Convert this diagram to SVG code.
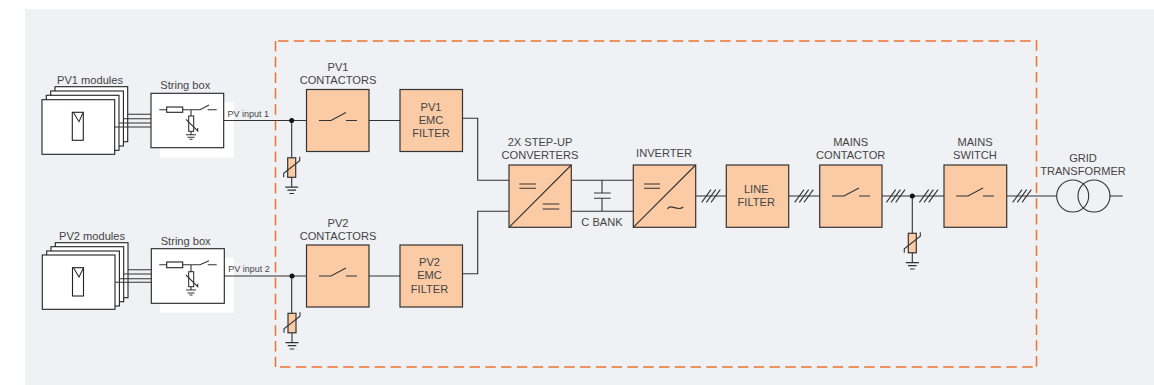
<svg xmlns="http://www.w3.org/2000/svg" width="1154" height="385" viewBox="0 0 1154 385">
<style>
text{font-family:"Liberation Sans",Arial,sans-serif;font-size:11.1px;fill:#444;text-anchor:middle}
.s{fill:none;stroke:#333;stroke-width:1.1}
.b{fill:#fbcba6;stroke:#333;stroke-width:1.2}
.w{fill:#fff;stroke:#222;stroke-width:1.1}
.d{fill:none;stroke:#e9742f;stroke-width:1.5;stroke-dasharray:10.5 5.29}
.sm{font-size:9px}
</style>
<defs>
<g id="sw"><path class="s" d="M-19 0H-7L8 -8M8 0H19"/></g>
<g id="hash"><path class="s" d="M-9.300 6.300L0 -6.300M-4.700 6.300L4.700 -6.300M0 6.300L9.300 -6.300"/></g>
<g id="var"><rect x="-4" y="0" width="8" height="19.500" class="b"/><path class="s" d="M-8 19.500V15.500L8 3V-1M0 19.500V29.300M-6.500 29.300H6.500M-4.300 32.300H4.300M-2.300 35.700H2.300"/></g>
</defs>
<rect x="25" y="9" width="1129" height="376" fill="#f0f1f4"/>
<rect x="160" y="102.300" width="73.700" height="55.400" fill="#fff"/>
<rect x="160" y="257.700" width="74" height="55" fill="#fff"/>
<path class="d" d="M278 41H1036.500"/>
<path class="d" d="M280 367H1036.500"/>
<path class="d" d="M275.500 41V367"/>
<path class="d" d="M1036.500 40.300V367"/>
<g id="connectors">
<path class="s" d="M223.700 120.500H306.500M369 120.500H400M462.500 118.300H477.700V180.300H509M462.500 273.700H477.700V211.300H509M571.300 180.300H633.300M571.300 211.300H633.300M602 180.300V193M602 198.300V211.300M695.700 196H726.300M788.700 196H819.700M882 196H944M1006.700 196H1056.700M1109.500 196H1122.700M291.700 120.500V158M291.700 276V313.300M912.300 196V233.300M224 276H306.500M369 276H400"/>
<circle cx="291.700" cy="120.500" r="2.500" fill="#111"/><circle cx="292" cy="276" r="2.500" fill="#111"/><circle cx="912.300" cy="196" r="2.500" fill="#111"/>
<path class="s" d="M594 193H610.700M594 198.300H610.700"/>
<use href="#hash" x="711" y="196"/><use href="#hash" x="804" y="196"/><use href="#hash" x="895.700" y="196"/><use href="#hash" x="928.700" y="196"/><use href="#hash" x="1022" y="196"/>
<use href="#var" x="291.700" y="157.800"/><use href="#var" x="292" y="313.300"/><use href="#var" x="912.300" y="233.300"/>
</g>
<g id="pv1-modules"><text x="90" y="84">PV1 modules</text>
<rect x="55" y="86.700" width="72.700" height="55" class="w"/><rect x="50.700" y="91" width="72.700" height="55" class="w"/><rect x="46.300" y="95.300" width="72.700" height="55" class="w"/><rect x="42" y="99.700" width="72.700" height="54.600" class="w"/>
<rect x="72.300" y="112.300" width="11" height="28" class="w"/><path class="s" d="M73.300 112.300L79 121.700L83.300 112.300"/>
<path class="s" d="M127.700 114.300H151M123.300 118.700H151M119 123H151M114.700 127H151"/></g>
<g id="pv2-modules"><text x="92" y="239.700">PV2 modules</text>
<rect x="55.300" y="242.700" width="72.700" height="55" class="w"/><rect x="51" y="246.700" width="72.700" height="55" class="w"/><rect x="46.700" y="251" width="72.700" height="55" class="w"/><rect x="42.300" y="255" width="72.700" height="54.300" class="w"/>
<rect x="72.500" y="267.700" width="11" height="28.300" class="w"/><path class="s" d="M73.500 267.700L79 277L83.500 267.700"/>
<path class="s" d="M128 269.700H151.300M123.700 274H151.300M119.300 278.700H151.300M115 282.300H151.300"/></g>
<g id="string-box-1"><text x="185.300" y="89">String box</text><rect x="151" y="93.300" width="72.700" height="54.400" class="w"/>
<rect x="166.700" y="107" width="16" height="5.300" class="w"/><path class="s" d="M159.300 109.700H166.700M182.700 109.700H200L209 105M207.700 109.700H216.700M191 109.700V116"/>
<rect x="188.700" y="116" width="5" height="15.300" fill="#fff" stroke="#222"/><path class="s" d="M186 119.300L197.700 131V128M191 131.300V134.700M186 134.700H196M187.500 137.300H194.500M189.500 139.300H192.500"/></g>
<g id="string-box-2"><text x="185.700" y="245">String box</text><rect x="151.300" y="248.700" width="73" height="54.600" class="w"/>
<rect x="166.700" y="262" width="16" height="5.700" class="w"/><path class="s" d="M159.300 264.700H166.700M182.700 264.700H200L209 260.700M207.700 264.700H216.700M191 264.700V271.700"/>
<rect x="188.700" y="271.700" width="5" height="15" fill="#fff" stroke="#222"/><path class="s" d="M186 275L197.700 286.700V283.700M191 286.700V290M186 290H196M187.500 293H194.500M189.500 295H192.500"/></g>
<text class="sm" x="248.300" y="116.700">PV input 1</text>
<text class="sm" x="249" y="271.700">PV input 2</text>
<g id="pv1-contactors"><text x="338" y="71">PV1</text><text x="338" y="84">CONTACTORS</text><rect x="306.500" y="89.500" width="62.500" height="62" class="b"/><use href="#sw" x="338" y="120.500"/></g>
<g id="pv1-emc"><rect x="400" y="89.500" width="62.500" height="62" class="b"/><text x="431" y="111">PV1</text><text x="431" y="124">EMC</text><text x="431" y="137">FILTER</text></g>
<g id="pv2-contactors"><text x="338" y="227">PV2</text><text x="338" y="240">CONTACTORS</text><rect x="306.500" y="245" width="62.500" height="62" class="b"/><use href="#sw" x="338" y="276"/></g>
<g id="pv2-emc"><rect x="400" y="245" width="62.500" height="62" class="b"/><text x="429.500" y="266">PV2</text><text x="429.500" y="279">EMC</text><text x="429.500" y="293">FILTER</text></g>
<g id="converters"><text x="540" y="145.700">2X STEP-UP</text><text x="540" y="159">CONVERTERS</text><rect x="509" y="165" width="62.300" height="62.300" class="b"/><path class="s" d="M509 227.300L571.300 165M519.300 184H536M519.300 188.300H536M542.700 204H559.300M542.700 209H559.300"/></g>
<text x="602" y="226">C BANK</text>
<g id="inverter"><text x="664" y="156.700">INVERTER</text><rect x="633.300" y="165" width="62.400" height="62.300" class="b"/><path class="s" d="M633.300 227.300L695.700 165M644 184H660M644 188.300H660M667.300 209C671 203 677 212 683.300 207"/></g>
<g id="line-filter"><rect x="726.300" y="165" width="62.400" height="62.300" class="b"/><text x="756.300" y="193">LINE</text><text x="756.300" y="206">FILTER</text></g>
<g id="mains-contactor"><text x="850.700" y="146">MAINS</text><text x="850.700" y="159">CONTACTOR</text><rect x="819.700" y="165" width="62.300" height="62.300" class="b"/><use href="#sw" x="851" y="196"/></g>
<g id="mains-switch"><text x="975" y="146">MAINS</text><text x="975" y="159">SWITCH</text><rect x="944" y="165" width="62.700" height="62.300" class="b"/><use href="#sw" x="975" y="196"/></g>
<g id="grid-transformer"><text x="1083" y="162">GRID</text><text x="1083" y="175">TRANSFORMER</text><circle cx="1072.700" cy="196" r="16" fill="none" stroke="#333" stroke-width="1.100"/><circle cx="1094" cy="196" r="16" fill="none" stroke="#333" stroke-width="1.100"/></g>
</svg>
